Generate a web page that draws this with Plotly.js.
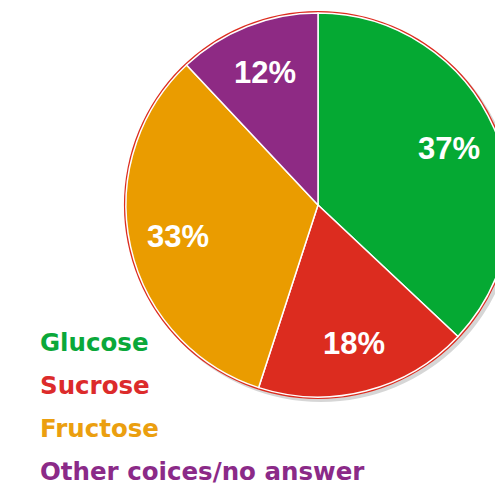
<!DOCTYPE html>
<html>
<head>
<meta charset="utf-8">
<script src="https://cdn.plot.ly/plotly-3.0.1.min.js"></script>
<style>
html, body { margin: 0; padding: 0; overflow: hidden; background: #ffffff; }
#chart { width: 540px; height: 486px; }
</style>
</head>
<body>
<div id="chart"></div>
<script>
// Data
const categories = ['Glucose', 'Sucrose', 'Fructose', 'Other coices/no answer'];
const values = [37, 18, 33, 12];
const sliceColors = ['#05a933', '#dc2c1f', '#ea9c00', '#8e2a84'];
const legendColors = ['#0aa83a', '#dc2b2b', '#eb9f0f', '#8b2a88'];

const W = 540, H = 486;
const CX = 318, CY = 205, R = 192;
function dom(cx, cy, r) {
  return {
    x: [(cx - r) / W, (cx + r) / W],
    y: [(H - (cy + r)) / H, (H - (cy - r)) / H]
  };
}
const total = values.reduce((a, b) => a + b, 0);

const traces = [
  { // soft shadow
    type: 'pie', values: [total], labels: ['shadow'], sort: false,
    marker: { colors: ['rgba(0,0,0,0.16)'], line: { width: 0 } },
    textinfo: 'none', hoverinfo: 'skip', domain: dom(CX + 3, CY + 3, R + 2), showlegend: false
  },
  { // red outline disc
    type: 'pie', values: [total], labels: ['outline'], sort: false,
    marker: { colors: ['#dc2c1f'], line: { width: 0 } },
    textinfo: 'none', hoverinfo: 'skip', domain: dom(CX, CY, R + 2), showlegend: false
  },
  {
    type: 'pie',
    labels: categories,
    values: values,
    sort: false,
    direction: 'clockwise',
    rotation: 0,
    marker: { colors: sliceColors, line: { color: '#ffffff', width: 1.5 } },
    textinfo: 'none',
    hoverinfo: 'label+percent',
    domain: dom(CX, CY, R),
    showlegend: false
  }
];

// percentage labels placed at each slice's mid-angle (derived from the values)
const labelAnnotations = [];
let cum = 0;
values.forEach((v) => {
  const mid = (cum + v / 2) / total * 2 * Math.PI;
  cum += v;
  const rr = R * 0.745;
  const px = CX + rr * Math.sin(mid);
  const py = CY - rr * Math.cos(mid);
  labelAnnotations.push({
    xref: 'paper', yref: 'paper',
    x: px / W, y: (H - py) / H,
    xanchor: 'center', yanchor: 'middle',
    text: '<b>' + v + '%</b>',
    showarrow: false,
    font: { family: 'Liberation Sans, Arial, sans-serif', size: 31, color: '#ffffff' }
  });
});

const legendAnnotations = categories.map((c, i) => ({
  xref: 'paper', yref: 'paper',
  x: 38 / W, y: (H - (342 + i * 43.3)) / H,
  xanchor: 'left', yanchor: 'middle',
  text: '<b>' + c + '</b>',
  showarrow: false,
  font: { family: 'DejaVu Sans, sans-serif', size: 24.5, color: legendColors[i] }
}));

const layout = {
  width: W, height: H,
  margin: { l: 0, r: 0, t: 0, b: 0 },
  paper_bgcolor: '#ffffff',
  plot_bgcolor: '#ffffff',
  showlegend: false,
  annotations: labelAnnotations.concat(legendAnnotations)
};

Plotly.newPlot('chart', traces, layout, { displayModeBar: false, staticPlot: true });
</script>
</body>
</html>
